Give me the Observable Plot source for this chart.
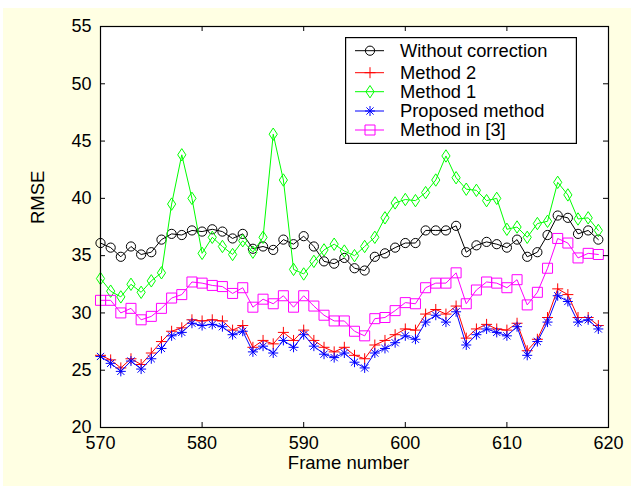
<!DOCTYPE html>
<html><head><meta charset="utf-8">
<script src="https://cdn.jsdelivr.net/npm/d3@7"></script>
<script src="https://cdn.jsdelivr.net/npm/@observablehq/plot@0.6"></script>
<style>
html,body{margin:0;padding:0;background:#fff;width:631px;height:486px;overflow:hidden;}
#wrap{position:relative;width:631px;height:486px;}
#bg{position:absolute;left:3px;top:8px;right:0;bottom:0;background:#FFFFE3;}
#chart{position:absolute;left:0;top:0;}
#legend{position:absolute;left:345px;top:37px;}
</style></head><body>
<div id="wrap"><div id="bg"></div><div id="chart"></div><div id="legend"></div></div>
<script>
// ---- data ----
const frames = [570,571,572,573,574,575,576,577,578,579,580,581,582,583,584,585,586,587,588,589,
  590,591,592,593,594,595,596,597,598,599,600,601,602,603,604,605,606,607,608,609,
  610,611,612,613,614,615,616,617,618,619];
const withoutCorrection = [36.1,35.7,34.9,35.8,35.1,35.3,36.4,36.9,36.8,37.2,
  37.1,37.3,37.1,36.5,36.9,35.6,35.8,35.5,36.4,36.0,
  36.7,35.8,34.5,34.3,34.8,33.9,33.7,34.9,35.2,35.7,
  36.1,36.1,37.2,37.2,37.2,37.6,35.3,35.9,36.2,36.0,
  35.7,36.4,34.9,35.3,36.8,38.5,38.3,36.9,37.2,36.4];
const method2 = [26.3,25.9,25.2,26.0,25.5,26.5,27.5,28.4,28.7,29.4,
  29.3,29.4,29.3,28.5,28.9,27.0,27.6,27.3,28.3,27.6,
  28.5,27.6,27.0,26.6,27.0,26.3,26.0,27.2,27.6,28.1,
  28.6,28.5,29.9,30.3,29.9,30.6,27.8,28.6,29.0,28.6,
  28.5,29.1,26.7,27.7,29.6,32.1,31.6,29.6,29.6,28.9];
const method1 = [33.0,31.9,31.4,32.5,31.8,32.8,33.5,39.5,43.8,40.0,
  35.2,36.6,35.8,35.1,36.3,35.3,36.6,45.6,41.6,33.8,
  33.4,34.5,35.5,36.0,35.4,35.0,35.8,36.6,38.3,39.6,
  39.9,39.8,40.5,41.6,43.7,41.8,40.8,40.7,39.8,40.0,
  37.3,37.5,36.6,37.8,38.0,41.4,40.3,38.2,38.3,37.2];
const proposed = [26.2,25.6,24.9,25.8,25.1,26.0,26.9,28.0,28.3,29.1,
  28.9,29.0,28.8,28.1,28.4,26.6,27.1,26.5,27.6,27.0,
  28.1,27.1,26.4,26.1,26.5,25.7,25.2,26.5,26.9,27.4,
  28.0,27.7,29.2,29.8,29.2,30.1,27.2,28.1,28.6,28.3,
  28.0,28.8,26.3,27.5,29.2,31.5,31.0,29.2,29.4,28.6];
const methodIn3 = [31.1,31.1,30.0,30.4,29.4,29.7,30.4,31.3,31.6,32.7,
  32.6,32.4,32.3,31.7,32.2,30.5,31.2,30.8,31.5,30.5,
  31.5,30.6,29.8,29.3,29.3,28.4,28.0,29.5,29.6,30.2,
  30.9,30.8,32.2,32.6,32.6,33.5,30.8,32.0,32.7,32.6,
  32.2,32.9,30.7,31.8,33.9,36.5,36.1,34.8,35.2,35.1];
const xTicks = [570,580,590,600,610,620];
const yTicks = [20,25,30,35,40,45,50,55];
const seriesNames = ["Without correction","Method 2","Method 1","Proposed method","Method in [3]"];
const seriesValues = [withoutCorrection, method2, method1, proposed, methodIn3];
const xLabel = "Frame number";
const yLabel = "RMSE";

// ---- symbols ----
const rad = s => Math.sqrt(s / Math.PI);
const symCircle = {draw(c, s){ const r = rad(s); c.moveTo(r,0); c.arc(0,0,r,0,2*Math.PI); c.closePath(); }};
const symPlus = {draw(c, s){ const r = rad(s); c.moveTo(-r,0); c.lineTo(r,0); c.moveTo(0,-r); c.lineTo(0,r); }};
const symDiamond = {draw(c, s){ const r = rad(s); const w = r*0.66; c.moveTo(0,-r); c.lineTo(w,0); c.lineTo(0,r); c.lineTo(-w,0); c.closePath(); }};
const symStar = {draw(c, s){ const r = rad(s); const d = r*0.72;
  c.moveTo(-r,0); c.lineTo(r,0); c.moveTo(0,-r); c.lineTo(0,r);
  c.moveTo(-d,-d); c.lineTo(d,d); c.moveTo(-d,d); c.lineTo(d,-d); }};
const symSquare = {draw(c, s){ const r = rad(s); c.moveTo(-r,-r); c.lineTo(r,-r); c.lineTo(r,r); c.lineTo(-r,r); c.closePath(); }};

const styles = [
  {color:"#000000", symbol:symCircle, r:4.6},
  {color:"#ff0000", symbol:symPlus, r:5.5},
  {color:"#00ff00", symbol:symDiamond, r:6.2},
  {color:"#0000ff", symbol:symStar, r:5},
  {color:"#ff00ff", symbol:symSquare, r:5}
];

const rows = [];
seriesNames.forEach((name, k) => {
  frames.forEach((f, i) => rows.push({series: name, k, frame: f, value: seriesValues[k][i]}));
});

const W = 631, H = 486, mL = 100, mR = 23, mT = 26, mB = 59;
const innerH = H - mT - mB, innerW = W - mL - mR;
const tickLen = 5;
const font = "'Liberation Sans', Arial, Helvetica, sans-serif";

const marks = [Plot.frame({fill:"white", stroke:"none"})];
seriesNames.forEach((name, k) => {
  const data = rows.filter(d => d.k === k);
  marks.push(Plot.line(data, {x:"frame", y:"value", stroke: styles[k].color, strokeWidth: 1}));
  marks.push(Plot.dot(data, {x:"frame", y:"value", stroke: styles[k].color, fill:"none",
    symbol: styles[k].symbol, r: styles[k].r, strokeWidth: 1}));
});
marks.push(
  Plot.ruleX(xTicks, {x: d => d, insetTop: innerH - tickLen, stroke:"black"}),
  Plot.ruleX(xTicks, {x: d => d, insetBottom: innerH - tickLen, stroke:"black"}),
  Plot.ruleY(yTicks, {y: d => d, insetRight: innerW - tickLen, stroke:"black"}),
  Plot.ruleY(yTicks, {y: d => d, insetLeft: innerW - tickLen, stroke:"black"}),
  Plot.frame({stroke:"black", strokeWidth: 1.2}),
  Plot.text([xLabel], {text: d => d, frameAnchor:"bottom", dy: 41, dx: -6, fontSize: 18.5, fill:"black"}),
  Plot.text([yLabel], {text: d => d, frameAnchor:"left", dx: -62, dy: -3, rotate: -90, fontSize: 18.5, fill:"black"})
);

const chart = Plot.plot({
  width: W, height: H,
  marginLeft: mL, marginRight: mR, marginTop: mT, marginBottom: mB,
  style: {background: "transparent", fontSize: "18px", fontFamily: font, color: "black"},
  x: {domain: [570, 620], ticks: xTicks, tickSize: 0, tickPadding: 9, label: null},
  y: {domain: [20, 55], ticks: yTicks, tickSize: 0, tickPadding: 9, label: null},
  marks
});
document.getElementById("chart").appendChild(chart);

// ---- legend ----
const lw = 232, lh = 107;
const rowY = [13.7, 35.7, 54.7, 74, 93];
const lsvg = d3.select("#legend").append("svg").attr("width", lw).attr("height", lh)
  .style("display","block");
lsvg.append("rect").attr("x",0.6).attr("y",0.6).attr("width",lw-1.2).attr("height",lh-1.2)
  .attr("fill","white").attr("stroke","black").attr("stroke-width",1.2);
seriesNames.forEach((name, k) => {
  const g = lsvg.append("g").attr("transform", `translate(0,${rowY[k]})`);
  g.append("line").attr("x1",10).attr("x2",39).attr("y1",0).attr("y2",0)
    .attr("stroke", styles[k].color).attr("stroke-width",1);
  const p = d3.path(); styles[k].symbol.draw(p, Math.PI * styles[k].r * styles[k].r);
  g.append("path").attr("d", p.toString()).attr("transform","translate(25,0)")
    .attr("fill","none").attr("stroke", styles[k].color).attr("stroke-width",1);
  g.append("text").attr("x",55).attr("y",0).attr("dy","0.35em").text(name)
    .attr("font-family", font).attr("font-size", 18.3).attr("fill","black");
});
</script>
</body></html>
